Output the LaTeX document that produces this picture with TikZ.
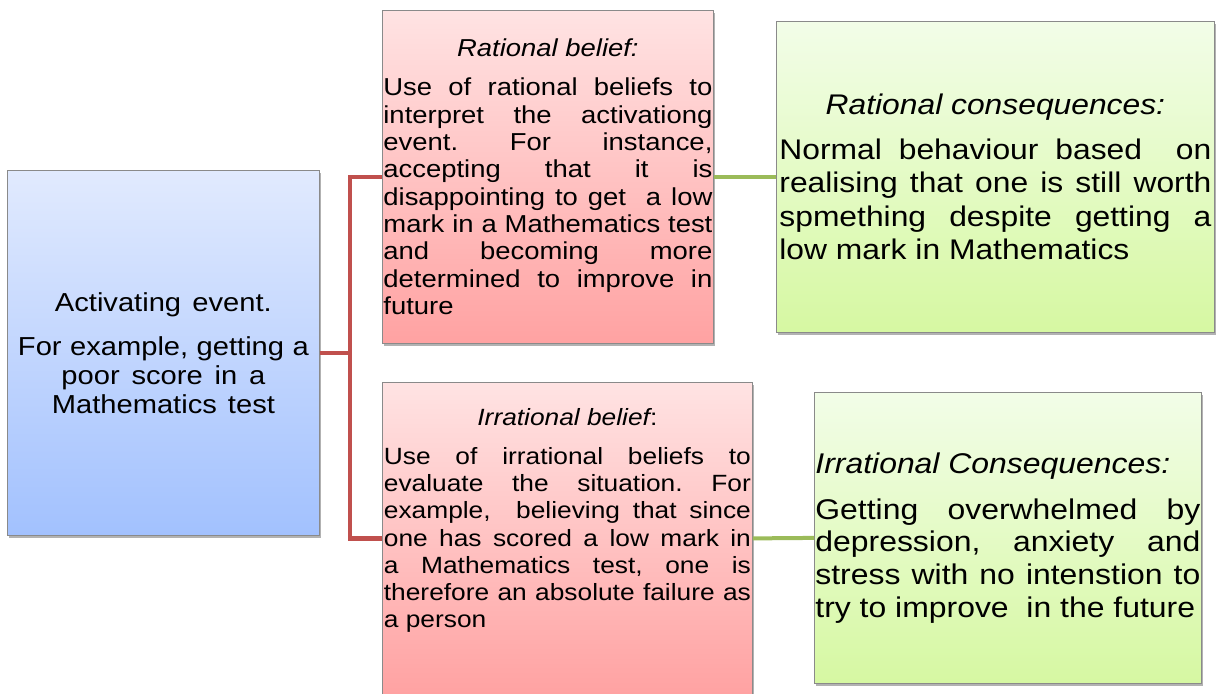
\documentclass[tikz,border=0pt]{standalone}
\usepackage{fontspec}
\setmainfont{Liberation Sans}[FakeStretch=1.12]
\usetikzlibrary{shadows}
\definecolor{blueTop}{HTML}{E1EAFE}
\definecolor{blueBot}{HTML}{A2C1FE}
\definecolor{redTop}{HTML}{FFE3E3}
\definecolor{redBot}{HTML}{FFA2A2}
\definecolor{greenTop}{HTML}{F2FDE8}
\definecolor{greenBot}{HTML}{D6F8A2}
\definecolor{boxGray}{HTML}{8A8A8A}
\definecolor{connRed}{HTML}{C0504D}
\definecolor{connGreen}{HTML}{9BBB59}
\frenchspacing
\newcommand\jl[1]{\makebox[\hsize][s]{\spaceskip=0pt\xspaceskip=0pt #1}}
\newcommand\natsp{\frenchspacing\spaceskip=0pt\xspaceskip=0pt\hyphenpenalty=10000\relax}
\begin{document}
\begin{tikzpicture}[x=1pt,y=-1pt,
  box/.style={draw=boxGray, line width=0.8pt, rectangle, anchor=north west, inner sep=0pt,
    drop shadow={shadow xshift=1.5pt, shadow yshift=-3pt, opacity=0.3, fill=black}},
  bluebox/.style={box, top color=blueTop, bottom color=blueBot},
  redbox/.style={box, top color=redTop, bottom color=redBot},
  greenbox/.style={box, top color=greenTop, bottom color=greenBot},
  redconn/.style={draw=connRed, line width=4.5pt},
  greenconn/.style={draw=connGreen, line width=4pt}]
\useasboundingbox (0,0) rectangle (1217,693);

% Activating event
\node[bluebox, minimum width=312pt, minimum height=365pt, text width=300pt, align=center,
  font=\fontsize{26}{29}\selectfont] (ae) at (7,170)
  {\natsp Activating event.\\[15pt] For example, getting a\\ poor score in a\\ Mathematics test};

% Rational belief
\node[redbox, minimum width=331pt, minimum height=333pt, text width=329pt, align=left,
  font=\fontsize{24.5}{27.3}\selectfont] (rb) at (382,10)
  {\natsp\makebox[\hsize]{\itshape Rational belief:}\\[11.7pt]
   \jl{Use of rational beliefs to}\\
   \jl{interpret the activationg}\\
   \jl{event. For instance,}\\
   \jl{accepting that it is}\\
   \jl{disappointing to get\ \ a low}\\
   \jl{mark in a Mathematics test}\\
   \jl{and becoming more}\\
   \jl{determined to improve in}\\
   future};

% Rational consequences
\node[greenbox, minimum width=438pt, minimum height=311pt, text width=432pt, align=left,
  font=\fontsize{28.4}{33.3}\selectfont] (rc) at (776,21)
  {\natsp\makebox[\hsize]{\itshape Rational consequences:}\\[11.7pt]
   \jl{Normal behaviour based\ \ on}\\
   \jl{realising that one is still worth}\\
   \jl{spmething despite getting a}\\
   low mark in Mathematics};

% Irrational belief (box runs past the bottom edge)
\node[redbox, minimum width=370pt, minimum height=312pt] (ib) at (382,382) {};
\node[text width=367pt, align=left, inner sep=0pt, font=\fontsize{23.5}{27.2}\selectfont]
  (ibt) at ([yshift=18pt]ib.center)
  {\natsp\makebox[\hsize]{{\itshape Irrational belief}:}\\[12pt]
   \jl{Use of irrational beliefs to}\\
   \jl{evaluate the situation. For}\\
   \jl{example,\ \ believing that since}\\
   \jl{one has scored a low mark in}\\
   \jl{a Mathematics test, one is}\\
   \jl{therefore an absolute failure as}\\
   a person};

% Irrational consequences
\node[greenbox, minimum width=387pt, minimum height=291pt, text width=385pt, align=left,
  font=\fontsize{28.5}{32.7}\selectfont] (ic) at (814,392)
  {\natsp{\itshape Irrational Consequences:}\\[13pt]
   \jl{Getting overwhelmed by}\\
   \jl{depression, anxiety and}\\
   \jl{stress with no intenstion to}\\
   try to improve\ \ in the future};

% connectors
\draw[redconn] (ae.east) -- ++(30,0) |- (rb.west);
\draw[redconn] (ae.east) -- ++(30,0) |- (ib.west);
\draw[greenconn] (rb.east) -- (rc.west);
\draw[greenconn] (ib.east) -- (ic.west);
\end{tikzpicture}
\end{document}
